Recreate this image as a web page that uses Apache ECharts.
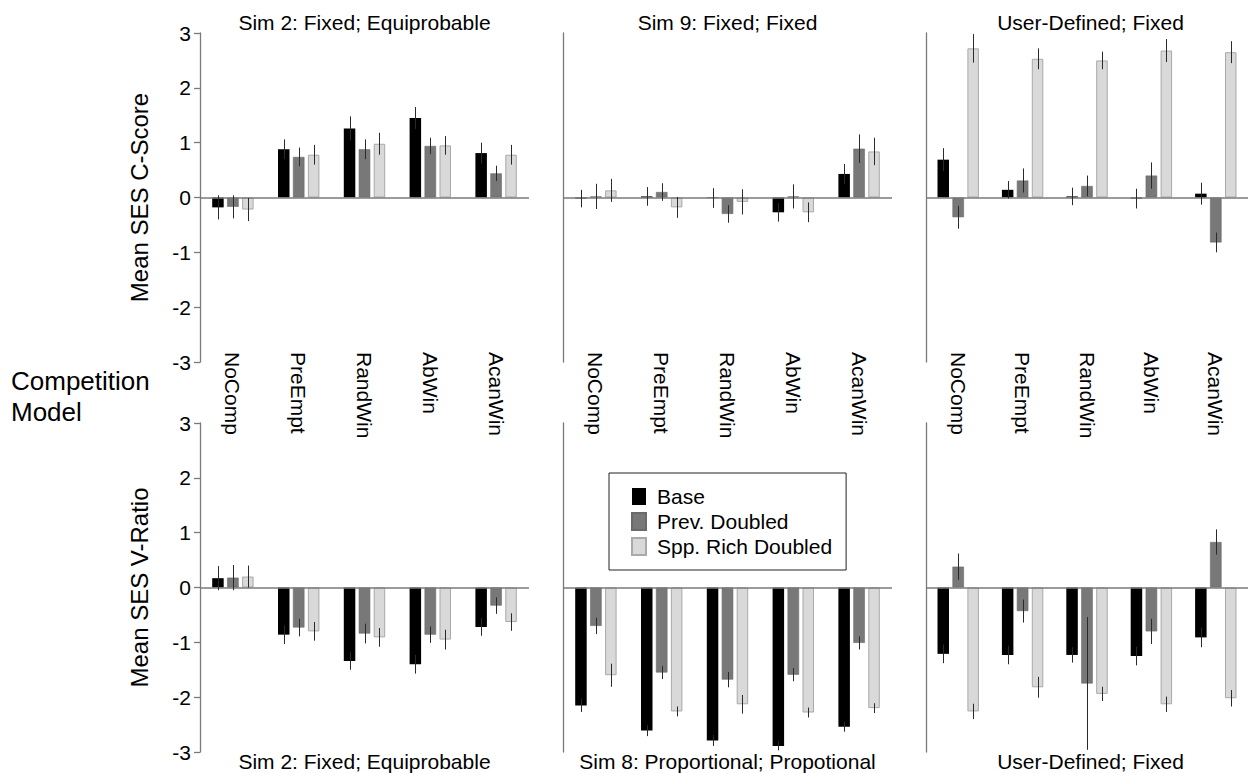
<!DOCTYPE html>
<html><head><meta charset="utf-8">
<script src="https://cdn.jsdelivr.net/npm/echarts@6/dist/echarts.min.js"></script>
<style>html,body{margin:0;padding:0;background:#fff}#c{width:1248px;height:773px}</style>
</head><body><div id="c"></div>
<script>
// ---------------- data ----------------
const categories = ['NoComp', 'PreEmpt', 'RandWin', 'AbWin', 'AcanWin'];
const seriesNames = ['Base', 'Prev. Doubled', 'Spp. Rich Doubled'];
const topTitles = ['Sim 2: Fixed; Equiprobable', 'Sim 9: Fixed; Fixed', 'User-Defined; Fixed'];
const bottomTitles = ['Sim 2: Fixed; Equiprobable', 'Sim 8: Proportional; Propotional', 'User-Defined; Fixed'];
const yTopName = 'Mean SES C-Score';
const yBottomName = 'Mean SES V-Ratio';
const sideLabel = 'Competition\nModel';
const yMin = -3, yMax = 3, yInterval = 1;

// C-Score, Sim 2 (rows: Base, Prev. Doubled, Spp. Rich Doubled)
const cSim2Mean = [[-0.18, 0.88, 1.26, 1.45, 0.81], [-0.17, 0.74, 0.88, 0.94, 0.44], [-0.22, 0.78, 0.98, 0.95, 0.78]];
const cSim2Err  = [[0.22, 0.18, 0.22, 0.20, 0.19], [0.21, 0.17, 0.18, 0.15, 0.14], [0.21, 0.18, 0.20, 0.17, 0.18]];
// C-Score, Sim 9
const cSim9Mean = [[-0.02, 0.02, -0.01, -0.27, 0.43], [0.02, 0.10, -0.30, 0.02, 0.89], [0.13, -0.18, -0.08, -0.27, 0.84]];
const cSim9Err  = [[0.16, 0.17, 0.18, 0.17, 0.18], [0.23, 0.16, 0.16, 0.22, 0.26], [0.21, 0.19, 0.23, 0.18, 0.25]];
// C-Score, User-Defined
const cUserMean = [[0.69, 0.14, 0.02, -0.02, 0.07], [-0.36, 0.31, 0.21, 0.40, -0.82], [2.72, 2.53, 2.50, 2.68, 2.65]];
const cUserErr  = [[0.21, 0.16, 0.16, 0.18, 0.20], [0.21, 0.22, 0.19, 0.24, 0.18], [0.26, 0.19, 0.16, 0.21, 0.20]];
// V-Ratio, Sim 2
const vSim2Mean = [[0.17, -0.86, -1.34, -1.40, -0.72], [0.18, -0.73, -0.84, -0.86, -0.33], [0.20, -0.80, -0.91, -0.95, -0.63]];
const vSim2Err  = [[0.22, 0.17, 0.16, 0.17, 0.16], [0.23, 0.16, 0.18, 0.15, 0.15], [0.20, 0.17, 0.17, 0.18, 0.16]];
// V-Ratio, Sim 8
const vSim8Mean = [[-2.15, -2.61, -2.79, -2.89, -2.54], [-0.70, -1.55, -1.68, -1.59, -1.01], [-1.60, -2.26, -2.13, -2.28, -2.20]];
const vSim8Err  = [[0.12, 0.10, 0.10, 0.08, 0.09], [0.15, 0.12, 0.14, 0.12, 0.12], [0.21, 0.09, 0.17, 0.09, 0.09]];
// V-Ratio, User-Defined
const vUserMean = [[-1.21, -1.23, -1.23, -1.25, -0.91], [0.38, -0.43, -1.75, -0.80, 0.83], [-2.26, -1.82, -1.94, -2.13, -2.02]];
const vUserErr  = [[0.17, 0.17, 0.14, 0.17, 0.18], [0.24, 0.21, 1.21, 0.23, 0.23], [0.14, 0.19, 0.13, 0.14, 0.15]];

// ---------------- layout & style ----------------
const FONT = '"Liberation Sans", Arial, Helvetica, sans-serif';
const colLeft = [200, 563, 926];
const gridW = 329;
const rowTop = [33, 423];
const gridH = 329;
const BAR_W = 11.5, BAR_GAP = 0.3;
const BAR_STEP = BAR_W * (1 + BAR_GAP);
const barStyles = [
  { color: '#000000', borderColor: '#000000', borderWidth: 0 },
  { color: '#787878', borderColor: '#6a6a6a', borderWidth: 0.6 },
  { color: '#d9d9d9', borderColor: '#a9a9a9', borderWidth: 1 }
];
const AXIS_COLOR = '#7a7a7a';

const panels = [
  { row: 0, col: 0, mean: cSim2Mean, err: cSim2Err },
  { row: 0, col: 1, mean: cSim9Mean, err: cSim9Err },
  { row: 0, col: 2, mean: cUserMean, err: cUserErr },
  { row: 1, col: 0, mean: vSim2Mean, err: vSim2Err },
  { row: 1, col: 1, mean: vSim8Mean, err: vSim8Err },
  { row: 1, col: 2, mean: vUserMean, err: vUserErr }
];

const grid = [], xAxis = [], yAxis = [], series = [];
panels.forEach((p, i) => {
  grid.push({ left: colLeft[p.col], top: rowTop[p.row], width: gridW, height: gridH, containLabel: false });
  xAxis.push({
    type: 'category', gridIndex: i, data: categories, boundaryGap: true,
    axisLine: { show: false, onZero: false }, axisTick: { show: false },
    splitLine: { show: false },
    axisLabel: p.row === 0 ? {
      show: true, rotate: -90, margin: -10, interval: 0,
      fontSize: 21, fontFamily: FONT, color: '#000', padding: [20, 0, 0, 0]
    } : { show: false }
  });
  const first = p.col === 0;
  yAxis.push({
    type: 'value', gridIndex: i, min: yMin, max: yMax, interval: yInterval,
    splitLine: { show: false },
    axisLine: { show: true, lineStyle: { color: AXIS_COLOR, width: 1.3 } },
    axisTick: { show: first, length: 6, lineStyle: { color: AXIS_COLOR, width: 1.3 } },
    axisLabel: { show: first, margin: 9, fontSize: 21, fontFamily: FONT, color: '#000' },
    name: first ? (p.row === 0 ? yTopName : yBottomName) : '',
    nameLocation: 'middle', nameGap: 49,
    nameTextStyle: { fontSize: 24, fontFamily: FONT, color: '#000' }
  });
  seriesNames.forEach((name, s) => {
    const ser = {
      type: 'bar', name: name, xAxisIndex: i, yAxisIndex: i,
      data: p.mean[s], barWidth: BAR_W, barGap: (BAR_GAP * 100) + '%',
      itemStyle: barStyles[s], silent: true, z: 2
    };
    if (s === 0) {
      ser.markLine = {
        silent: true, symbol: 'none', label: { show: false },
        lineStyle: { color: AXIS_COLOR, width: 1.5, type: 'solid' },
        data: [{ yAxis: 0 }], z: 4
      };
    }
    series.push(ser);
  });
  const errData = [];
  seriesNames.forEach((name, s) => {
    categories.forEach((c, k) => {
      errData.push([k, p.mean[s][k] - p.err[s][k], p.mean[s][k] + p.err[s][k], s]);
    });
  });
  series.push({
    type: 'custom', name: 'err' + i, xAxisIndex: i, yAxisIndex: i, z: 5, silent: true,
    data: errData, encode: { x: 0, y: [1, 2] },
    renderItem: function (params, api) {
      const k = api.value(0), lo = api.value(1), hi = api.value(2), s = api.value(3);
      const a = api.coord([k, lo]), b = api.coord([k, hi]);
      const x = Math.round(a[0] + (s - 1) * BAR_STEP) + 0.5;
      return { type: 'line', shape: { x1: x, y1: a[1], x2: x, y2: b[1] },
               style: { stroke: '#2a2a2a', lineWidth: 1 } };
    }
  });
});

const graphic = [];
topTitles.forEach((t, c) => graphic.push({ type: 'text', x: colLeft[c] + gridW / 2, y: 22,
  style: { text: t, font: '21px ' + FONT, fill: '#000', align: 'center', verticalAlign: 'middle' } }));
bottomTitles.forEach((t, c) => graphic.push({ type: 'text', x: colLeft[c] + gridW / 2, y: 761,
  style: { text: t, font: '21px ' + FONT, fill: '#000', align: 'center', verticalAlign: 'middle' } }));
graphic.push({ type: 'text', x: 11, y: 396,
  style: { text: sideLabel, font: '26px ' + FONT, lineHeight: 31, fill: '#000', align: 'left', verticalAlign: 'middle' } });

const chart = echarts.init(document.getElementById('c'), null, { renderer: 'svg' });
chart.setOption({
  backgroundColor: '#fff',
  animation: false,
  grid, xAxis, yAxis, series, graphic,
  legend: {
    data: seriesNames, orient: 'vertical', left: 609, top: 473,
    itemWidth: 14, itemHeight: 17, itemGap: 4,
    padding: [13, 14, 13, 22],
    borderColor: '#222', borderWidth: 1, backgroundColor: '#fff',
    icon: 'rect',
    textStyle: { fontSize: 21, fontFamily: FONT, color: '#000', lineHeight: 21, padding: [0, 0, 0, 6] },
    selectedMode: false
  }
});
</script></body></html>
